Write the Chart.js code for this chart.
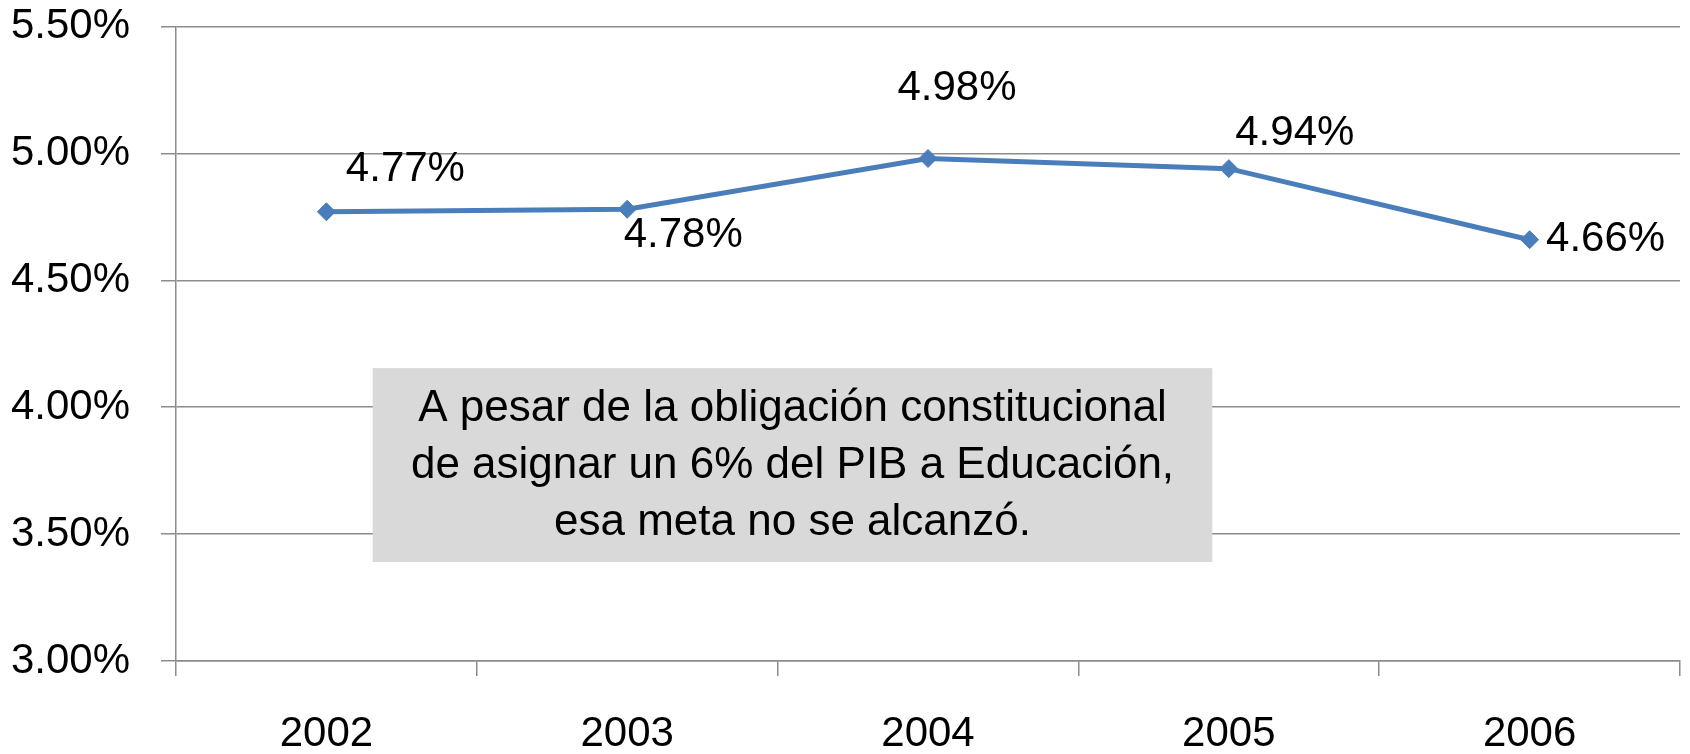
<!DOCTYPE html>
<html><head><meta charset="utf-8">
<script src="https://cdn.jsdelivr.net/npm/chart.js@4"></script>
<style>html,body{margin:0;padding:0;background:#fff;} canvas{display:block;}</style>
</head><body>
<canvas id="c" width="1690" height="754"></canvas>
<script>
const categories = ['2002', '2003', '2004', '2005', '2006'];
const values = [4.77, 4.78, 4.98, 4.94, 4.66];
const yTicks = [3.0, 3.5, 4.0, 4.5, 5.0, 5.5];
const noteLines = ['A pesar de la obligación constitucional', 'de asignar un 6% del PIB a Educación,', 'esa meta no se alcanzó.'];

// label placement (px offsets from each point) and note box extent (in axis units)
const labelOffsets = [[79, -42], [56, 26], [29, -70], [66, -35], [76, 0]];
const noteBox = { x0: 0.154, x1: 2.945, yTop: 4.154, yBottom: 3.39 };

const FONT = '"Liberation Sans", Arial, sans-serif';
const GRID = '#8C8C8C';
const BLUE = '#4A7EBB';

const notePlugin = {
  id: 'note',
  beforeDatasetsDraw(chart) {
    const { ctx, scales: { x, y } } = chart;
    const l = x.getPixelForValue(noteBox.x0), r = x.getPixelForValue(noteBox.x1);
    const t = y.getPixelForValue(noteBox.yTop), b = y.getPixelForValue(noteBox.yBottom);
    ctx.save();
    ctx.fillStyle = '#D9D9D9';
    ctx.fillRect(l, t, r - l, b - t);
    ctx.fillStyle = '#000';
    ctx.font = '44px ' + FONT;
    ctx.textAlign = 'center';
    ctx.textBaseline = 'middle';
    const cx = (l + r) / 2, cy = (t + b) / 2 + 1, lh = 57;
    noteLines.forEach((s, i) => ctx.fillText(s, cx, cy + (i - (noteLines.length - 1) / 2) * lh));
    ctx.restore();
  },
  afterDatasetsDraw(chart) {
    const { ctx } = chart;
    const meta = chart.getDatasetMeta(0);
    ctx.save();
    ctx.fillStyle = '#000';
    ctx.font = '42px ' + FONT;
    ctx.textAlign = 'center';
    ctx.textBaseline = 'middle';
    meta.data.forEach((pt, i) => {
      const [dx, dy] = labelOffsets[i];
      ctx.fillText(values[i].toFixed(2) + '%', pt.x + dx, pt.y + dy);
    });
    ctx.restore();
  }
};

function noPad(axis) { axis.paddingTop = 0; axis.paddingBottom = 0; axis.paddingLeft = 0; axis.paddingRight = 0; }

new Chart(document.getElementById('c'), {
  type: 'line',
  data: {
    labels: categories,
    datasets: [{
      data: values,
      borderColor: BLUE,
      backgroundColor: BLUE,
      borderWidth: 5,
      pointStyle: 'rectRot',
      pointRadius: 9,
      pointBorderWidth: 1,
      pointBorderColor: BLUE,
      pointBackgroundColor: BLUE,
      tension: 0,
      fill: false
    }]
  },
  options: {
    responsive: false,
    animation: false,
    layout: { padding: { left: 11, top: 26.5, right: 9, bottom: 1 } },
    plugins: { legend: { display: false }, tooltip: { enabled: false } },
    scales: {
      x: {
        offset: true,
        afterFit: axis => { axis.height = 92; noPad(axis); },
        grid: { offset: true, drawOnChartArea: false, tickLength: 15, color: GRID, lineWidth: 1.5 },
        border: { display: true, color: GRID, width: 1.5 },
        ticks: { color: '#000', font: { family: FONT, size: 42, lineHeight: 0.9 }, padding: 40, maxRotation: 0 }
      },
      y: {
        min: 3, max: 5.5,
        afterBuildTicks: axis => { axis.ticks = yTicks.map(v => ({ value: v })); },
        afterFit: axis => { axis.width = 165; noPad(axis); },
        grid: { color: GRID, lineWidth: 1.5, tickLength: 15 },
        border: { display: true, color: GRID, width: 1.5 },
        ticks: { color: '#000', font: { family: FONT, size: 42 }, padding: 31, callback: v => Number(v).toFixed(2) + '%' }
      }
    }
  },
  plugins: [notePlugin]
});
</script>
</body></html>
